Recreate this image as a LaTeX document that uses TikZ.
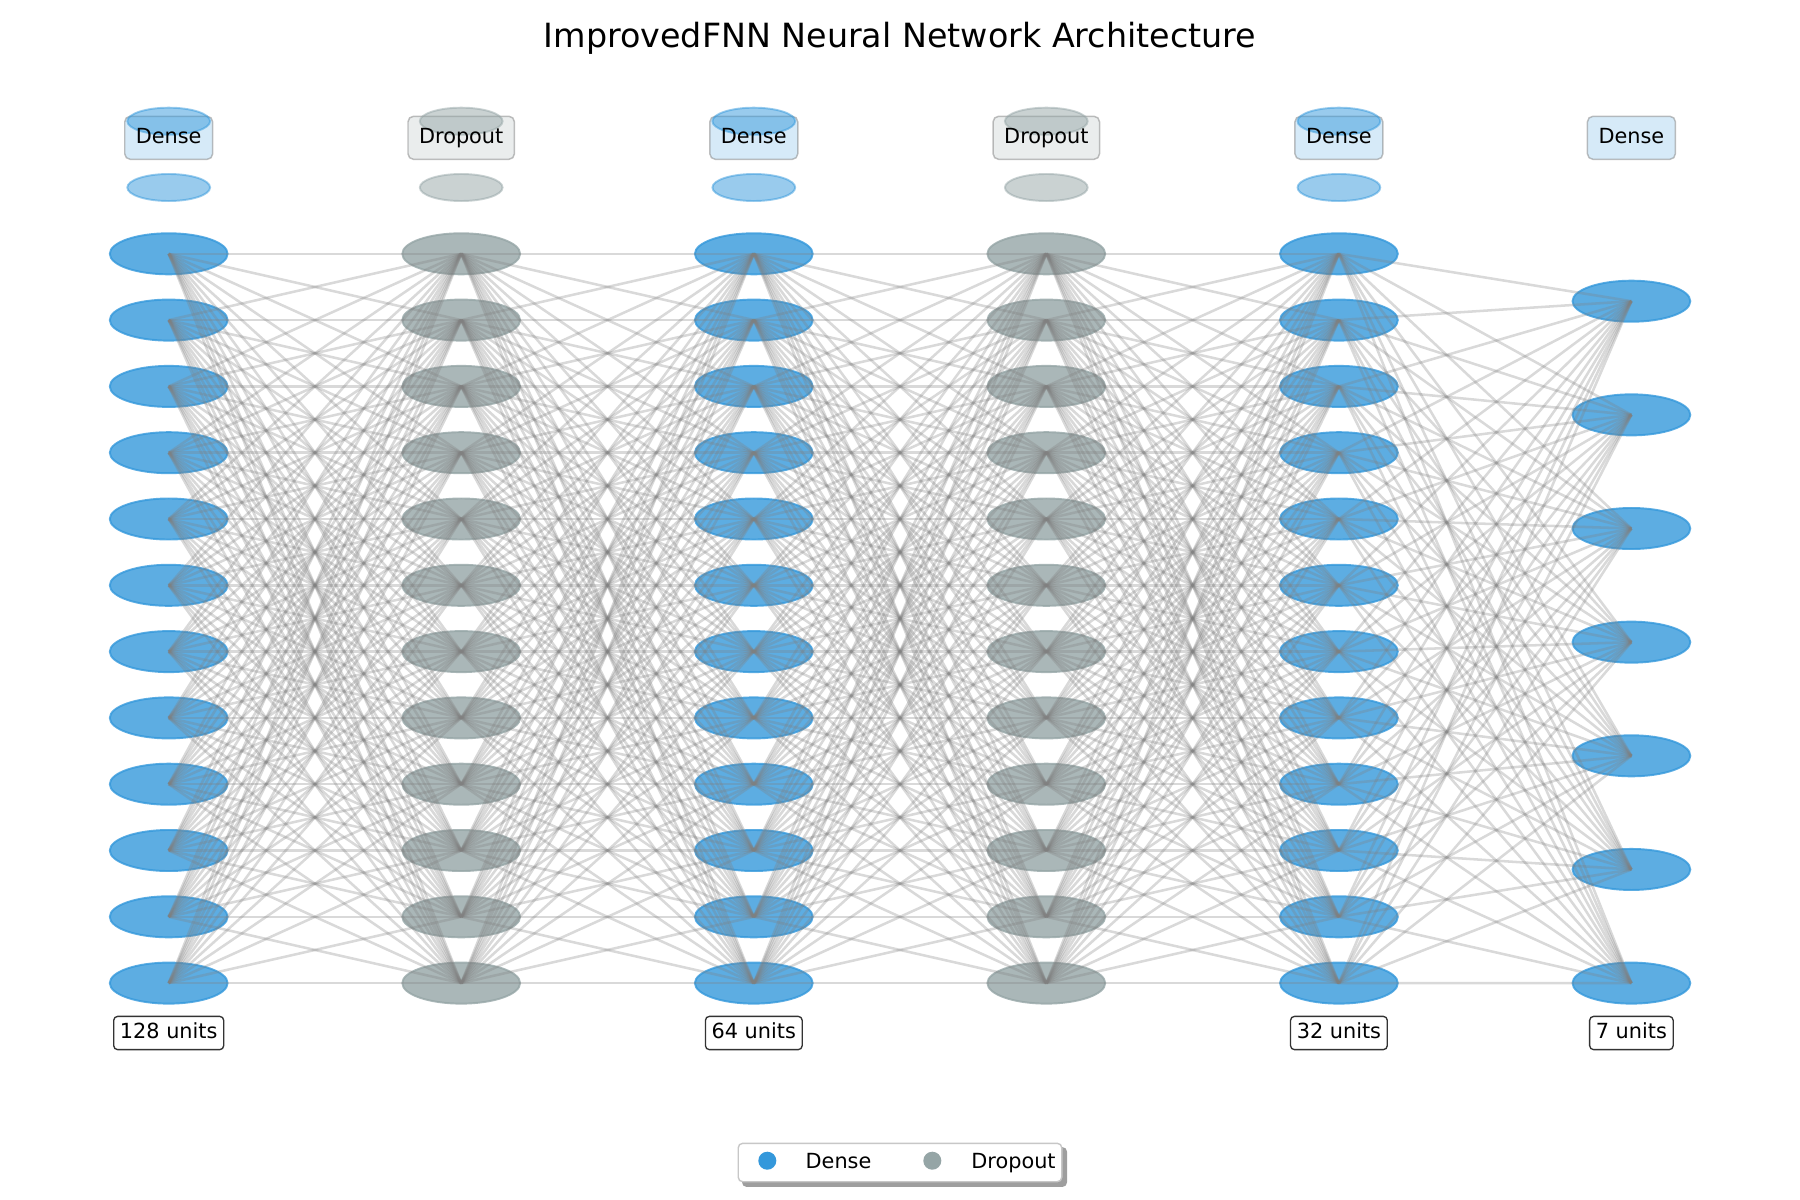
\documentclass[tikz,border=0pt]{standalone}
\usepackage{fontspec}
\setmainfont{DejaVu Sans}
\usetikzlibrary{shapes.geometric}
\definecolor{dense}{HTML}{3498DB}
\definecolor{drop}{HTML}{95A5A6}
\definecolor{edgedark}{HTML}{333333}
\pgfdeclarelayer{bg}
\pgfdeclarelayer{mid}
\pgfsetlayers{bg,mid,main}
\begin{document}
\begin{tikzpicture}[x=0.01cm,y=-0.01cm,
  neuron/.style={ellipse, minimum width=1.177cm, minimum height=0.41cm, inner sep=0pt, line width=0.55pt},
  densen/.style={neuron, fill=dense, draw=dense, fill opacity=0.8, draw opacity=0.8},
  dropn/.style={neuron, fill=drop, draw=drop, fill opacity=0.8, draw opacity=0.8},
  indic/.style={ellipse, minimum width=0.827cm, minimum height=0.27cm, inner sep=0pt, line width=0.55pt, fill opacity=0.5, draw opacity=0.5},
  conn/.style={draw=gray, draw opacity=0.3, line width=0.72pt},
  smallfont/.style={font=\fontsize{5.92}{7}\selectfont},
  laytext/.style={smallfont, text=black, inner xsep=0.104cm, inner ysep=0.104cm, text height=4.5pt, text depth=1.42pt},
  laybox/.style={line width=0.42pt, draw=gray, draw opacity=0.5, fill opacity=0.2, rounded corners=0.055cm},
  unitbox/.style={smallfont, draw=edgedark, fill=white, line width=0.38pt, rounded corners=0.04cm, inner sep=0.0624cm, text height=4.5pt, text depth=1.42pt},
]
\useasboundingbox (0,0) rectangle (1800,1200);

% title
\node[font=\fontsize{9.48}{11}\selectfont] (title) at (900,38) {ImprovedFNN Neural Network Architecture};

% neurons (12-node columns)
\foreach \i/\x/\s in {1/168.7/densen, 2/461.2/dropn, 3/753.8/densen, 4/1046.3/dropn, 5/1338.9/densen} {
  \foreach \j in {1,...,12} {
    \node[\s] (n\i-\j) at (\x, {253.8+(\j-1)*66.3}) {};
  }
}
% output column
\foreach \j in {1,...,7} {
  \node[densen] (n6-\j) at (1631.4, {301.2+(\j-1)*113.65}) {};
}

% layer labels, boxes and indicator ellipses
\foreach \i/\x/\c/\t in {1/168.7/dense/Dense, 2/461.2/drop/Dropout, 3/753.8/dense/Dense, 4/1046.3/drop/Dropout, 5/1338.9/dense/Dense, 6/1631.4/dense/Dense} {
  \node[laytext] (lab\i) at (\x,137.8) {\t};
  \begin{pgfonlayer}{bg}
    \draw[laybox, fill=\c] (lab\i.south west) rectangle (lab\i.north east);
  \end{pgfonlayer}
}
\begin{pgfonlayer}{mid}
\foreach \i/\x/\c in {1/168.7/dense, 2/461.2/drop, 3/753.8/dense, 4/1046.3/drop, 5/1338.9/dense} {
  \node[indic, fill=\c, draw=\c] (ind\i-a) at (\x,121.2) {};
  \node[indic, fill=\c, draw=\c] (ind\i-b) at (\x,187.5) {};
}
\end{pgfonlayer}

% connections
\foreach \i in {1,...,4} {
  \pgfmathtruncatemacro{\k}{\i+1}
  \foreach \a in {1,...,12} {
    \foreach \b in {1,...,12} {
      \draw[conn] (n\i-\a.center) -- (n\k-\b.center);
    }
  }
}
\foreach \a in {1,...,12} {
  \foreach \b in {1,...,7} {
    \draw[conn] (n5-\a.center) -- (n6-\b.center);
  }
}

% unit labels
\node[unitbox] (u1) at (168.7,1033) {128 units};
\node[unitbox] (u3) at (753.8,1033) {64 units};
\node[unitbox] (u5) at (1338.9,1033) {32 units};
\node[unitbox] (u6) at (1631.4,1033) {7 units};

% legend
\node[draw=black!22, fill=white, line width=0.4pt, rounded corners=0.045cm, minimum width=3.234cm, minimum height=0.384cm, inner sep=0pt] (leg) at (900,1162.5) {};
\begin{pgfonlayer}{bg}
  \fill[black!38, rounded corners=0.045cm] ([xshift=0.045cm,yshift=-0.045cm]leg.south west) rectangle ([xshift=0.045cm,yshift=-0.045cm]leg.north east);
\end{pgfonlayer}
\node[circle, fill=dense, minimum size=0.18cm, inner sep=0pt] (legm1) at (767.3,1160.7) {};
\node[smallfont, anchor=base west, inner sep=0pt] (legt1) at (805,1168.5) {Dense};
\node[circle, fill=drop, minimum size=0.18cm, inner sep=0pt] (legm2) at (932.3,1160.7) {};
\node[smallfont, anchor=base west, inner sep=0pt] (legt2) at (970.7,1168.5) {Dropout};
\end{tikzpicture}
\end{document}
